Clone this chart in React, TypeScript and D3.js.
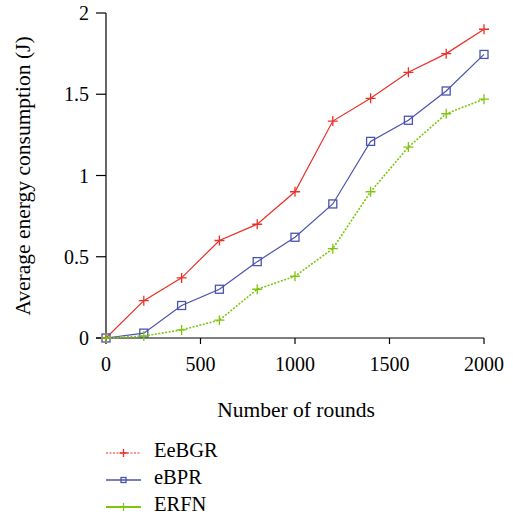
import React from "react";
import * as d3 from "d3";

const rounds = [0, 200, 400, 600, 800, 1000, 1200, 1400, 1600, 1800, 2000];
const eebgr = [0, 0.23, 0.37, 0.6, 0.7, 0.9, 1.335, 1.475, 1.635, 1.75, 1.9];
const ebpr = [0, 0.03, 0.2, 0.3, 0.47, 0.62, 0.825, 1.21, 1.34, 1.52, 1.745];
const erfn = [0, 0.012, 0.05, 0.11, 0.3, 0.38, 0.55, 0.9, 1.175, 1.38, 1.47];
const xTicks = [0, 500, 1000, 1500, 2000];
const yTicks = [0, 0.5, 1, 1.5, 2];
const seriesNames = ["EeBGR", "eBPR", "ERFN"];

const RED = "#ec2f27";
const BLUE = "#4a53ad";
const GREEN = "#7ec50f";
const FONT = "'Liberation Serif', 'DejaVu Serif', serif";

export default function App() {
  const x = d3.scaleLinear().domain([0, 2000]).range([106, 484]);
  const y = d3.scaleLinear().domain([0, 2]).range([338, 13]);
  const line = d3
    .line<[number, number]>()
    .x((d) => x(d[0]))
    .y((d) => y(d[1]));

  const series = [
    { name: seriesNames[0], values: eebgr, color: RED, dash: undefined as string | undefined, marker: "plus", width: 1.2 },
    { name: seriesNames[1], values: ebpr, color: BLUE, dash: undefined, marker: "square", width: 1.2 },
    { name: seriesNames[2], values: erfn, color: GREEN, dash: "2,1.5", marker: "plus", width: 1.6 },
  ];
  const legendStyles = [
    { color: RED, dash: "2,1.5", marker: "plus", width: 1.2 },
    { color: BLUE, dash: undefined, marker: "square", width: 1.4 },
    { color: GREEN, dash: undefined, marker: "plus", width: 2 },
  ];

  const marker = (type: string, cx: number, cy: number, color: string, key: string, s = 5, sq = 4) =>
    type === "plus" ? (
      <path key={key} d={`M${cx - s},${cy}H${cx + s}M${cx},${cy - s}V${cy + s}`} stroke={color} strokeWidth={1.3} fill="none" />
    ) : (
      <rect key={key} x={cx - sq} y={cy - sq} width={2 * sq} height={2 * sq} stroke={color} strokeWidth={1.3} fill="none" />
    );

  return (
    <svg width={513} height={516} style={{ position: "absolute", left: 0, top: 0 }} fontFamily={FONT}>
      <rect width={513} height={516} fill="#fff" />
      {/* axes */}
      <line x1={106} x2={106} y1={13} y2={338} stroke="#000" strokeWidth={1.2} />
      <line x1={96} x2={484} y1={338} y2={338} stroke="#000" strokeWidth={1.2} />
      {yTicks.map((t) => (
        <g key={"y" + t}>
          <line x1={96} x2={106} y1={y(t)} y2={y(t)} stroke="#000" strokeWidth={1.2} />
          <text x={89} y={y(t)} dy="0.35em" textAnchor="end" fontSize={20}>
            {t}
          </text>
        </g>
      ))}
      {xTicks.map((t) => (
        <g key={"x" + t}>
          <line x1={x(t)} x2={x(t)} y1={338} y2={344} stroke="#000" strokeWidth={1.2} />
          <text x={x(t)} y={364} dy="0.35em" textAnchor="middle" fontSize={20}>
            {t}
          </text>
        </g>
      ))}
      <text x={296} y={409} dy="0.35em" textAnchor="middle" fontSize={21.5}>
        Number of rounds
      </text>
      <text transform={`translate(22,176) rotate(-90)`} dy="0.35em" textAnchor="middle" fontSize={21.5}>
        Average energy consumption (J)
      </text>
      {/* series */}
      {series.map((s) => {
        const pts = rounds.map((r, i) => [r, s.values[i]] as [number, number]);
        return (
          <g key={s.name}>
            <path d={line(pts) || ""} fill="none" stroke={s.color} strokeWidth={s.width} strokeDasharray={s.dash} />
            {pts.map((p, i) => marker(s.marker, x(p[0]), y(p[1]), s.color, s.name + i))}
          </g>
        );
      })}
      {/* legend */}
      {seriesNames.map((n, i) => {
        const ly = 453 + i * 27;
        const st = legendStyles[i];
        return (
          <g key={"l" + n}>
            <line x1={106} x2={141} y1={ly} y2={ly} stroke={st.color} strokeWidth={st.width} strokeDasharray={st.dash} />
            {marker(st.marker, 123.5, ly, st.color, "lm" + i, 4, 2.5)}
            <text x={154} y={ly - 3} dy="0.35em" fontSize={20.5}>
              {n}
            </text>
          </g>
        );
      })}
    </svg>
  );
}
